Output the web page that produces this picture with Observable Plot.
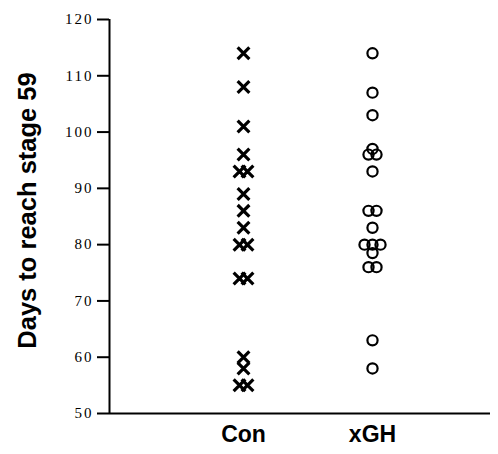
<!DOCTYPE html>
<html>
<head>
<meta charset="utf-8">
<script src="https://cdn.jsdelivr.net/npm/d3@7"></script>
<script src="https://cdn.jsdelivr.net/npm/@observablehq/plot@0.6"></script>
<style>
  html, body { margin: 0; padding: 0; background: #fff; }
  #chart svg { display: block; }
</style>
</head>
<body>
<div id="chart"></div>
<script>
// ---- data ----
const groups = ["Con", "xGH"];
const conDays = [114, 108, 101, 96, 93, 93, 89, 86, 83, 80, 80, 74, 74, 60, 58, 55, 55];
const xghDays = [114, 107, 103, 97, 96, 96, 93, 86, 86, 83, 80, 80, 80, 78.5, 76, 76, 63, 58];
const yTicks = [50, 60, 70, 80, 90, 100, 110, 120];
const yLabel = "Days to reach stage 59";

// Side-by-side placement of identical values (derived from the data, symmetric)
const slot = 0.062;
function rows(values, gi) {
  const counts = d3.rollup(values, v => v.length, d => d);
  const seen = new Map();
  return values.map(v => {
    const n = counts.get(v);
    const i = seen.get(v) || 0;
    seen.set(v, i + 1);
    return {group: groups[gi], pos: gi + 1 + (i - (n - 1) / 2) * slot, days: v};
  });
}
const conRows = rows(conDays, 0);
const xghRows = rows(xghDays, 1);

const xDomain = [1 - 134 / 129, 1 + 247 / 129];

const chart = Plot.plot({
  width: 498,
  height: 454,
  marginTop: 19,
  marginBottom: 41,
  marginLeft: 109,
  marginRight: 8,
  x: {domain: xDomain},
  y: {domain: [50, 120]},
  marks: [
    Plot.axisY({
      ticks: yTicks,
      tickSize: 12,
      tickPadding: 4,
      strokeWidth: 2,
      fontFamily: "Liberation Serif",
      fontSize: 15,
      label: null
    }),
    Plot.axisX({
      ticks: [1, 2],
      tickFormat: d => groups[d - 1],
      tickSize: 0,
      tickPadding: 12,
      fontFamily: "Liberation Sans",
      fontWeight: "bold",
      fontSize: 23,
      label: null
    }),
    Plot.text([yLabel], {
      frameAnchor: "left",
      textAnchor: "middle",
      dx: -92,
      dy: -6,
      rotate: -90,
      lineAnchor: "top",
      fontFamily: "Liberation Sans",
      fontWeight: "bold",
      fontSize: 25.5
    }),
    Plot.ruleX([xDomain[0]], {y1: 50, y2: 120, strokeWidth: 2}),
    Plot.ruleY([50], {strokeWidth: 2}),
    Plot.dot(conRows, {x: "pos", y: "days", symbol: "times", r: 5.4, stroke: "black", strokeWidth: 3.2}),
    Plot.dot(xghRows, {x: "pos", y: "days", symbol: "circle", r: 5.1, stroke: "black", strokeWidth: 2.2, fill: "none"})
  ]
});
chart.querySelectorAll('[aria-label="y-axis tick label"] text').forEach(t => t.setAttribute("letter-spacing", "2"));
document.getElementById("chart").appendChild(chart);
</script>
</body>
</html>
